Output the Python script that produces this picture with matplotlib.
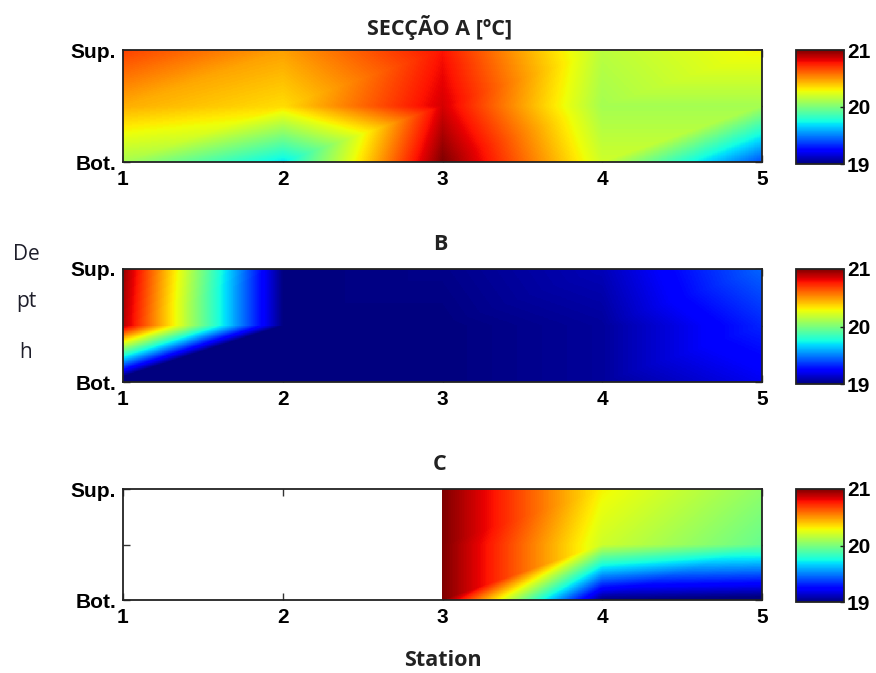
import numpy as np
import matplotlib
matplotlib.use("Agg")
import matplotlib.pyplot as plt
import matplotlib.tri as mtri

nan = np.nan

# Stations along the section and the three sampled depth levels
stations = [1, 2, 3, 4, 5]
depth_levels = [0.0, 0.5, 1.0]          # bottom, mid-water, surface
depth_ticklabels = ["Bot.", "", "Sup."]
cbar_ticks = [19, 20, 21]
t_min, t_max = 19, 21

# Temperature (ºC) at each station: bottom, mid-depth and surface rows
sec_a_bot = [20.10, 19.70, 21.00, 20.20, 19.40]
sec_a_mid = [20.45, 20.35, 20.85, 20.10, 20.10]
sec_a_sup = [20.68, 20.48, 20.78, 20.15, 20.30]

sec_b_bot = [18.80, 19.00, 19.00, 19.05, 19.20]
sec_b_mid = [20.90, 19.00, 19.00, 19.05, 19.32]
sec_b_sup = [20.95, 19.00, 19.02, 19.10, 19.45]

sec_c_bot = [nan, nan, 21.00, 19.00, 18.95]
sec_c_mid = [nan, nan, 21.00, 20.20, 19.95]
sec_c_sup = [nan, nan, 21.00, 20.30, 20.05]

panel_titles = ["SECÇÃO A [ºC]", "B", "C"]

W, H = 876, 673
fig = plt.figure(figsize=(W / 100, H / 100), dpi=100)

tick_font = dict(family="Liberation Sans", weight="bold", size=15)
head_font = dict(family="Open Sans", weight="bold", size=15.5)


def px_box(left, top, right, bottom):
    return [left / W, 1 - bottom / H, (right - left) / W, (bottom - top) / H]


def section_field(bot, mid, sup):
    n = len(stations)
    x = np.tile(np.asarray(stations, float), 3)
    y = np.repeat(np.asarray(depth_levels, float), n)
    z = np.concatenate([bot, mid, sup]).astype(float)
    tris = []
    for j in range(len(depth_levels) - 1):
        for i in range(n - 1):
            a = j * n + i
            b, c, d = a + 1, a + 1 + n, a + n
            tris += [[a, b, c], [a, c, d]]
    tris = np.array(tris)
    valid = np.isfinite(z)
    mask = ~valid[tris].all(axis=1)
    tri = mtri.Triangulation(x, y, tris, mask=mask)
    interp = mtri.LinearTriInterpolator(tri, np.where(valid, z, 0.0))
    gx = np.linspace(stations[0], stations[-1], 961)
    gy = np.linspace(depth_levels[0], depth_levels[-1], 181)
    GX, GY = np.meshgrid(gx, gy)
    return interp(GX, GY)


panels = [
    ((sec_a_bot, sec_a_mid, sec_a_sup), (123, 50, 762, 162), (796, 50, 844, 164), 27),
    ((sec_b_bot, sec_b_mid, sec_b_sup), (123, 269, 762, 382), (796, 269, 844, 384), 245),
    ((sec_c_bot, sec_c_mid, sec_c_sup), (123, 489, 762, 600), (796, 489, 844, 602), 465),
]

for (rows, box, cbox, ty), title in zip(panels, panel_titles):
    ax = fig.add_axes(px_box(*box))
    field = section_field(*rows)
    im = ax.imshow(field, origin="lower", aspect="auto", cmap="jet",
                   vmin=t_min, vmax=t_max, interpolation="nearest",
                   extent=[stations[0], stations[-1], depth_levels[0], depth_levels[-1]])
    im.set_zorder(1)
    ax.set_axisbelow(True)
    ax.set_xlim(stations[0], stations[-1])
    ax.set_ylim(depth_levels[0], depth_levels[-1])
    ax.set_xticks(stations)
    ax.set_xticklabels([str(s) for s in stations], fontdict=tick_font)
    ax.set_yticks(depth_levels)
    ax.set_yticklabels(depth_ticklabels, fontdict=tick_font)
    ax.tick_params(direction="in", length=5, width=1, top=True, right=True,
                   color="#333333")
    ax.tick_params(axis="x", pad=6)
    ax.tick_params(axis="y", pad=5)
    for sp in ax.spines.values():
        sp.set_linewidth(1.3)
        sp.set_color("#222222")
        sp.set_zorder(3)

    fig.text(440 / W, 1 - ty / H, title, ha="center", va="center",
             color="#222222", **head_font)

    cax = fig.add_axes(px_box(*cbox))
    cb = fig.colorbar(im, cax=cax, ticks=cbar_ticks)
    cb.outline.set_linewidth(1.3)
    cb.outline.set_edgecolor("#222222")
    cax.tick_params(direction="in", length=3, width=1, pad=2, color="#222222")
    cax.set_yticklabels([str(t) for t in cbar_ticks], fontdict=tick_font)

fig.text(443 / W, 1 - 660 / H, "Station", ha="center", va="center",
         color="#222222", family="Open Sans", weight="bold", size=15.5)

for word, yy in [("De", 254), ("pt", 302), ("h", 352)]:
    fig.text(26 / W, 1 - yy / H, word, ha="center", va="center",
             color="#1e1e2a", family="Open Sans", size=15)

fig.savefig("out.png", dpi=100)
